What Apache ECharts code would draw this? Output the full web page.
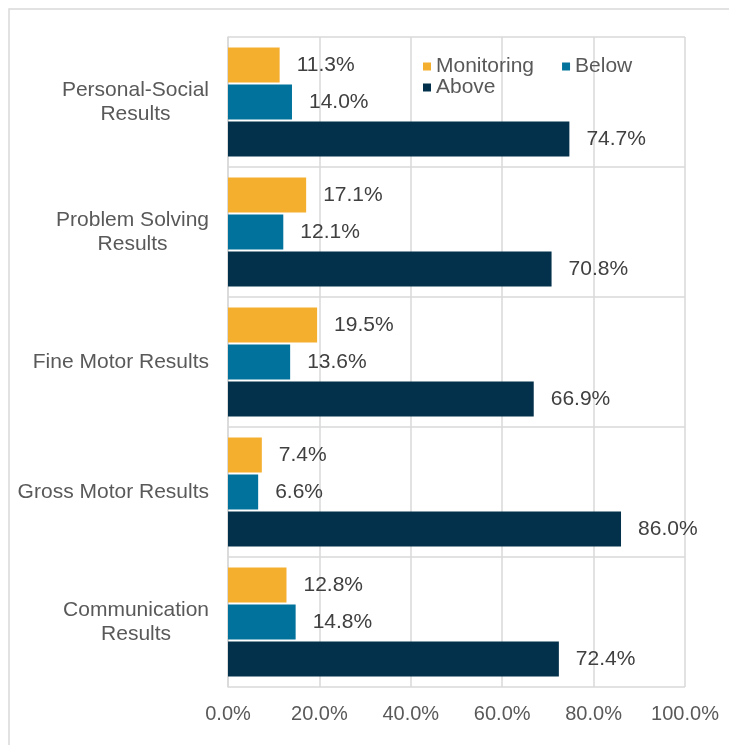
<!DOCTYPE html>
<html>
<head>
<meta charset="utf-8">
<script src="https://cdn.jsdelivr.net/npm/echarts@6/dist/echarts.min.js"></script>
<style>
html,body{margin:0;padding:0;background:#fff;}
#main{width:729px;height:745px;}
</style>
</head>
<body>
<div id="main"></div>
<script>
var categories = ["Personal-Social\nResults", "Problem Solving\nResults", "Fine Motor Results", "Gross Motor Results", "Communication\nResults"];
var monitoring = [11.3, 17.1, 19.5, 7.4, 12.8];
var below = [14.0, 12.1, 13.6, 6.6, 14.8];
var above = [74.7, 70.8, 66.9, 86.0, 72.4];
var seriesNames = ["Monitoring", "Below", "Above"];
var colors = ["#F5AF2F", "#01729B", "#03304A"];

var font = "'Liberation Sans', Arial, sans-serif";

function pct(v){
	return Number(v).toFixed(1) + "%";
}

function makeSeries(name, data, color){
	return {
		name: name,
		type: "bar",
		data: data,
		barWidth: 35,
		barGap: "6%",
		itemStyle: { color: color },
		label: {
			show: true,
			position: "right",
			distance: 17,
			fontSize: 21,
			fontFamily: font,
			color: "#404040",
			formatter: function(p){ return pct(p.value); }
		}
	};
}

var chart = echarts.init(document.getElementById("main"));
chart.setOption({
	animation: false,
	color: colors,
	graphic: [{
		type: "rect",
		shape: { x: 9, y: 9, width: 740, height: 760 },
		style: { fill: "none", stroke: "#d9d9d9", lineWidth: 1.5 },
		z: -10
	}],
	grid: { left: 228, right: 44, top: 37, bottom: 58 },
	legend: [{
		data: ["Monitoring", "Below"],
		left: 418, top: 51,
		icon: "rect", itemWidth: 8, itemHeight: 8, itemGap: 28,
		textStyle: { fontSize: 21, fontFamily: font, color: "#595959" }
	}, {
		data: ["Above"],
		left: 418, top: 72,
		icon: "rect", itemWidth: 8, itemHeight: 8,
		textStyle: { fontSize: 21, fontFamily: font, color: "#595959" }
	}],
	xAxis: {
		type: "value",
		min: 0, max: 100, interval: 20,
		axisLine: { show: false },
		axisTick: { show: false },
		splitLine: { lineStyle: { color: "#d9d9d9", width: 1.5 } },
		axisLabel: {
			fontSize: 20, fontFamily: font, color: "#595959", margin: 17,
			formatter: function(v){ return pct(v); }
		}
	},
	yAxis: {
		type: "category",
		inverse: true,
		data: categories,
		axisLine: { lineStyle: { color: "#d9d9d9", width: 1.5 } },
		axisTick: { show: false },
		splitLine: { show: true, lineStyle: { color: "#d9d9d9", width: 1.5 } },
		axisLabel: {
			margin: 19, align: "right",
			formatter: function(v){
				// 多行标签居中
				return v.split("\n").map(function(s){ return "{c|" + s + "}"; }).join("\n");
			},
			rich: {
				c: { fontSize: 21, fontFamily: font, color: "#595959", lineHeight: 24, align: "center" }
			}
		}
	},
	series: [
		makeSeries(seriesNames[0], monitoring, colors[0]),
		makeSeries(seriesNames[1], below, colors[1]),
		makeSeries(seriesNames[2], above, colors[2])
	]
});
</script>
</body>
</html>
